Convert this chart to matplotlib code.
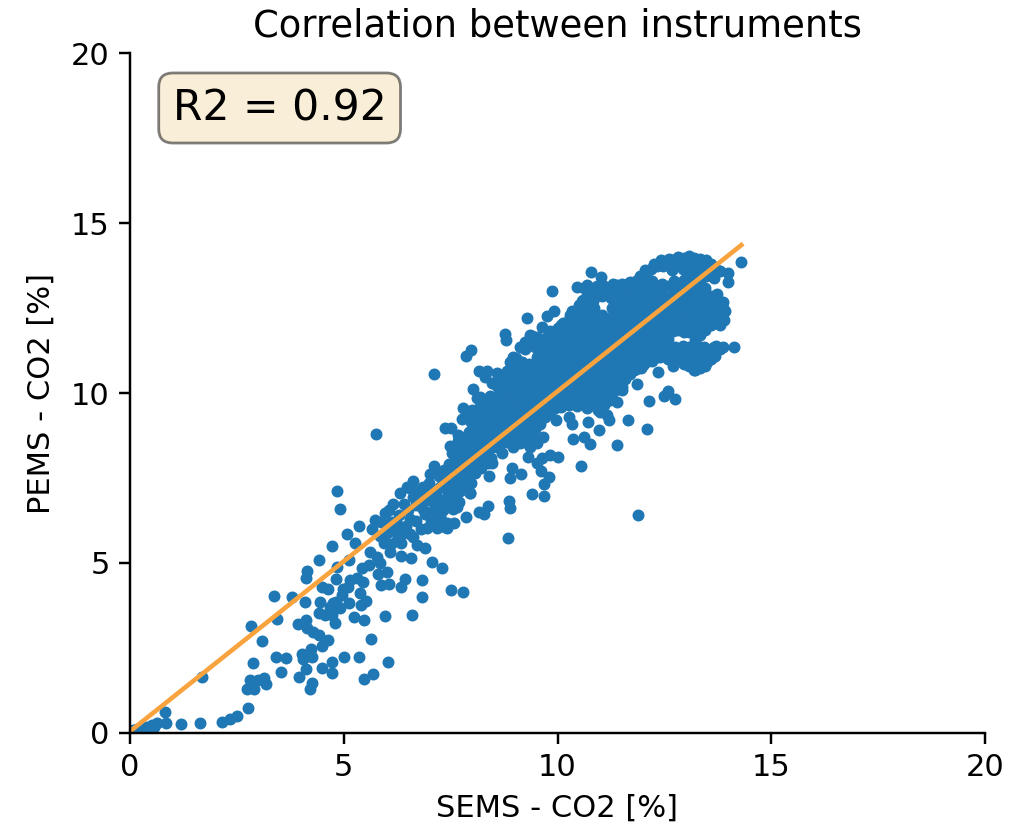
import matplotlib
matplotlib.use('Agg')
import matplotlib.pyplot as plt

# (SEMS, PEMS) CO2 readings in %
near_zero = [(0.02, 0.02), (0.08, 0.09), (0.1, 0.03), (0.16, 0.11), (0.2, 0.05), (0.27, 0.17), (0.3, 0.08),
             (0.35, 0.12), (0.39, 0.19), (0.45, 0.14), (0.51, 0.24), (0.55, 0.18), (0.62, 0.30), (0.84, 0.29),
             (0.83, 0.62), (1.20, 0.26), (1.64, 0.29), (2.15, 0.33), (2.35, 0.42), (2.51, 0.51), (2.75, 0.75)]

low_scatter = [(4.85, 7.13), (4.92, 6.58), (5.36, 6.10), (5.08, 5.84), (4.72, 5.49), (5.26, 5.58), (4.41, 5.08),
               (4.13, 4.76), (4.12, 4.57), (4.84, 4.89), (5.13, 5.09), (3.38, 4.02), (3.79, 4.01), (4.09, 3.84),
               (4.44, 3.84), (4.50, 4.28), (4.64, 4.25), (4.83, 4.52), (5.15, 4.50), (4.99, 4.25), (5.46, 4.45),
               (5.38, 4.11), (5.52, 3.89), (5.41, 3.76), (5.13, 3.83), (4.83, 3.86), (4.68, 3.72), (4.91, 3.67),
               (4.41, 3.54), (4.56, 3.47), (4.72, 3.47), (4.80, 3.25), (5.24, 3.42), (5.48, 3.32), (5.97, 3.44),
               (6.60, 3.48), (6.82, 3.99), (6.82, 4.50), (6.43, 4.53), (6.35, 4.30), (6.06, 4.38), (5.86, 4.36),
               (6.00, 4.75), (5.79, 4.68), (7.07, 5.02), (7.30, 4.84), (2.82, 3.14), (3.45, 3.34), (3.92, 3.22),
               (4.12, 3.32), (4.13, 3.08), (4.29, 2.98), (4.41, 2.88), (4.64, 2.75), (4.48, 2.57), (5.63, 2.76),
               (3.09, 2.70), (4.24, 2.46), (4.03, 2.31), (4.04, 2.18), (4.26, 2.24), (3.41, 2.25), (3.66, 2.20),
               (2.88, 2.07), (5.01, 2.25), (5.36, 2.25), (6.03, 2.10), (4.72, 2.10), (4.12, 1.89), (4.50, 1.92),
               (4.73, 1.77), (3.53, 1.78), (3.95, 1.64), (5.68, 1.73), (5.47, 1.59), (4.26, 1.48), (4.21, 1.29),
               (1.68, 1.66), (3.14, 1.61), (3.17, 1.45), (3.00, 1.56), (2.81, 1.56), (2.91, 1.29), (2.73, 1.28),
               (5.75, 8.78), (7.50, 4.20), (7.78, 4.15)]

high_scatter = [(14.29, 13.85), (10.78, 13.55), (11.02, 13.40), (9.87, 13.01), (9.28, 12.21), (9.92, 12.41),
                (9.75, 12.27), (9.63, 11.93), (9.83, 11.83), (8.77, 11.74), (8.80, 11.56), (7.98, 11.26),
                (7.86, 11.10), (7.10, 10.56), (8.17, 10.65), (8.36, 10.65), (8.31, 10.48), (8.58, 10.58),
                (8.03, 10.12), (8.11, 9.84), (7.80, 9.57), (7.76, 9.25), (7.37, 8.96), (7.50, 8.96), (7.49, 8.45),
                (7.53, 8.23), (7.10, 7.86), (14.13, 11.34), (13.88, 11.36), (13.73, 12.91), (13.98, 13.52),
                (13.98, 13.27), (12.35, 10.63), (11.86, 10.27), (12.15, 9.77), (12.58, 10.07), (12.50, 9.91),
                (12.75, 9.81), (11.52, 10.09), (11.66, 9.20), (12.09, 8.93), (11.39, 8.46), (11.88, 6.40),
                (10.55, 7.86), (11.21, 9.20), (10.97, 8.91), (10.72, 9.15), (10.35, 9.08), (10.26, 9.30),
                (9.97, 9.20), (10.37, 8.65), (10.61, 8.70), (10.76, 8.50), (10.01, 8.11), (9.83, 8.18),
                (9.63, 8.08), (9.30, 8.13), (9.52, 7.93), (9.62, 7.72), (9.81, 7.52), (9.69, 7.31), (9.14, 7.62),
                (8.93, 7.80), (8.88, 7.49), (8.40, 7.57), (9.40, 7.03), (9.69, 6.96), (8.87, 6.82), (8.88, 6.62),
                (8.38, 6.69), (8.28, 6.43), (8.17, 6.49), (7.85, 6.34), (7.58, 6.17), (7.41, 6.02), (7.18, 6.02),
                (8.85, 5.73)]

band_lower = [(6.47, 7.25), (6.32, 7.05), (6.16, 6.75), (5.96, 6.46), (5.73, 6.26), (5.65, 6.00), (6.86, 7.25),
              (6.63, 6.95), (7.02, 6.85), (7.33, 6.56), (7.41, 6.17), (6.94, 6.04), (7.17, 6.07), (7.37, 6.07),
              (6.63, 5.77), (6.39, 5.87), (6.24, 5.68), (6.00, 5.87), (6.08, 5.33), (6.35, 5.21), (6.57, 5.14),
              (6.71, 5.53), (6.90, 5.43), (5.93, 5.58), (5.61, 5.33), (5.77, 5.19), (5.85, 4.99), (5.58, 4.94),
              (5.42, 4.84), (5.30, 4.55), (5.11, 4.30), (4.95, 4.06), (4.76, 3.81), (6.10, 6.20), (6.30, 6.40),
              (6.50, 6.55), (6.70, 6.70), (6.20, 5.95), (6.45, 6.10), (6.70, 6.25), (6.90, 6.45), (7.10, 6.55),
              (7.05, 6.25), (6.80, 6.00), (6.55, 5.85), (6.35, 5.60), (6.10, 5.55), (5.85, 5.80), (7.30, 6.85),
              (7.15, 7.10), (6.95, 7.05), (6.70, 7.00), (6.55, 7.20), (6.62, 7.42), (7.00, 7.35), (7.25, 7.25),
              (7.45, 7.05), (7.60, 6.90), (7.55, 6.60), (7.22, 7.55), (7.02, 7.62), (6.82, 6.85), (6.55, 6.30),
              (6.25, 6.15), (6.85, 6.60), (7.25, 6.35), (6.42, 6.75), (6.78, 7.15), (7.12, 6.80), (7.35, 7.75),
              (7.58, 7.25), (7.55, 7.55), (7.58, 7.85), (7.60, 8.15), (6.05, 6.55), (5.88, 6.20)]

band_a = [(7.45, 7.35), (7.42, 7.65), (7.47, 7.92), (7.70, 6.80), (7.72, 7.12), (7.68, 7.40), (7.74, 7.70),
          (7.70, 8.00), (7.72, 8.30), (7.68, 8.60), (7.95, 7.05), (7.98, 7.35), (7.92, 7.65), (7.96, 7.95),
          (7.93, 8.25), (7.97, 8.55), (7.94, 8.85), (7.98, 9.15), (7.92, 9.45), (8.20, 7.80), (8.22, 8.05),
          (8.18, 8.35), (8.23, 8.65), (8.19, 8.95), (8.21, 9.25), (8.17, 9.55), (8.45, 8.10), (8.47, 8.40),
          (8.43, 8.70), (8.46, 9.00), (8.44, 9.30), (8.48, 9.60), (8.42, 9.90), (8.70, 8.25), (8.72, 8.55),
          (8.68, 8.85), (8.71, 9.15), (8.69, 9.45), (8.73, 9.75), (8.67, 10.05), (8.70, 10.30), (8.95, 8.40),
          (8.97, 8.70), (8.93, 9.00), (8.96, 9.30), (8.94, 9.60), (8.98, 9.90), (8.92, 10.20), (8.95, 10.50),
          (8.97, 10.80), (9.03, 11.02)]

band_b = [(9.20, 8.55), (9.22, 8.85), (9.18, 9.15), (9.21, 9.45), (9.19, 9.75), (9.23, 10.05), (9.17, 10.35),
          (9.20, 10.65), (9.16, 10.92), (9.24, 11.30), (9.25, 11.50), (9.45, 8.65), (9.47, 8.95), (9.43, 9.25),
          (9.46, 9.55), (9.44, 9.85), (9.48, 10.15), (9.42, 10.45), (9.46, 10.75), (9.52, 11.05), (9.48, 11.35),
          (9.40, 11.68), (9.70, 9.30), (9.72, 9.60), (9.68, 9.90), (9.71, 10.20), (9.69, 10.50), (9.73, 10.80),
          (9.67, 11.10), (9.70, 11.40), (9.72, 11.62), (9.95, 9.55), (9.97, 9.85), (9.93, 10.15), (9.96, 10.45),
          (9.94, 10.75), (9.98, 11.05), (9.92, 11.35), (9.95, 11.65), (10.00, 11.90), (10.20, 9.72), (10.22, 10.00),
          (10.18, 10.30), (10.21, 10.60), (10.19, 10.90), (10.23, 11.20), (10.17, 11.50), (10.20, 11.80),
          (10.22, 12.10), (10.45, 9.62), (10.47, 9.92), (10.43, 10.22), (10.46, 10.52), (10.44, 10.82),
          (10.48, 11.12), (10.42, 11.42), (10.45, 11.72), (10.47, 12.02), (10.43, 12.32), (10.50, 12.60)]

band_c = [(10.70, 9.55), (10.72, 9.85), (10.68, 10.15), (10.71, 10.45), (10.69, 10.75), (10.73, 11.05),
          (10.67, 11.35), (10.70, 11.65), (10.72, 11.95), (10.68, 12.25), (10.71, 12.55), (10.69, 12.85),
          (10.62, 13.08), (10.95, 9.50), (10.97, 9.80), (10.93, 10.10), (10.96, 10.40), (10.94, 10.70),
          (10.98, 11.00), (10.92, 11.30), (10.95, 11.60), (10.97, 11.90), (10.88, 12.20), (10.85, 12.50),
          (10.90, 12.85), (10.92, 13.15), (11.20, 9.80), (11.22, 10.10), (11.18, 10.40), (11.21, 10.70),
          (11.19, 11.00), (11.23, 11.30), (11.17, 11.60), (11.20, 11.90), (11.22, 12.20), (11.28, 12.50),
          (11.26, 12.80), (11.18, 13.10), (11.30, 13.20), (11.45, 10.30), (11.47, 10.60), (11.43, 10.90),
          (11.46, 11.20), (11.44, 11.50), (11.48, 11.80), (11.42, 12.10), (11.45, 12.40), (11.47, 12.70),
          (11.43, 13.00), (11.52, 13.22), (11.70, 10.55), (11.72, 10.85), (11.68, 11.15), (11.71, 11.45),
          (11.69, 11.75), (11.73, 12.05), (11.67, 12.35), (11.70, 12.65), (11.72, 12.95), (11.68, 13.25)]

band_d = [(11.95, 10.75), (11.97, 11.05), (11.93, 11.35), (11.96, 11.65), (11.94, 11.95), (11.98, 12.25),
          (11.92, 12.55), (11.95, 12.85), (11.97, 13.15), (11.93, 13.45), (12.20, 10.95), (12.22, 11.25),
          (12.18, 11.55), (12.21, 11.85), (12.19, 12.15), (12.23, 12.45), (12.17, 12.75), (12.20, 13.05),
          (12.22, 13.30), (12.18, 13.65), (12.45, 11.15), (12.47, 11.45), (12.43, 11.75), (12.46, 12.05),
          (12.44, 12.35), (12.48, 12.65), (12.42, 12.95), (12.45, 13.22), (12.47, 13.75), (12.43, 13.90),
          (12.70, 10.80), (12.72, 11.10), (12.74, 11.35), (12.71, 11.82), (12.69, 12.12), (12.73, 12.42),
          (12.67, 12.72), (12.70, 13.02), (12.72, 13.28), (12.68, 13.62), (12.71, 13.92), (12.95, 10.85),
          (12.97, 11.15), (12.93, 11.38), (12.96, 11.80), (12.94, 12.10), (12.98, 12.40), (12.92, 12.70),
          (12.95, 13.00), (12.97, 13.32), (12.93, 13.65), (12.96, 13.98)]

band_e = [(13.20, 10.68), (13.22, 10.95), (13.18, 11.25), (13.21, 11.55), (13.19, 11.85), (13.23, 12.15),
          (13.17, 12.45), (13.20, 12.75), (13.22, 13.05), (13.18, 13.35), (13.21, 13.65), (13.19, 13.98),
          (13.45, 10.78), (13.47, 11.08), (13.43, 11.36), (13.46, 11.85), (13.44, 12.15), (13.48, 12.45),
          (13.42, 12.75), (13.45, 13.10), (13.47, 13.45), (13.43, 13.75), (13.47, 13.92), (13.68, 11.10),
          (13.70, 11.38), (13.72, 12.18), (13.68, 12.48), (13.70, 12.72), (13.65, 13.38), (13.68, 13.68),
          (13.90, 12.15), (13.92, 12.40), (13.88, 12.68)]

fill_a = [(7.83, 7.20), (7.83, 7.50), (7.83, 7.80), (7.83, 8.10), (7.83, 8.40), (7.83, 8.70), (8.08, 7.65),
          (8.08, 7.95), (8.08, 8.25), (8.08, 8.55), (8.08, 8.85), (8.08, 9.15), (8.08, 9.40), (8.33, 8.25),
          (8.33, 8.55), (8.33, 8.85), (8.33, 9.15), (8.33, 9.45), (8.33, 9.70), (8.58, 8.40), (8.58, 8.70),
          (8.58, 9.00), (8.58, 9.30), (8.58, 9.60), (8.58, 9.90), (8.58, 10.20), (8.83, 8.55), (8.83, 8.85),
          (8.83, 9.15), (8.83, 9.45), (8.83, 9.75), (8.83, 10.05), (8.83, 10.35), (8.83, 10.65), (9.08, 8.70),
          (9.08, 9.00), (9.08, 9.30), (9.08, 9.60), (9.08, 9.90), (9.08, 10.20), (9.08, 10.50), (9.08, 10.80),
          (9.33, 8.75), (9.33, 9.05), (9.33, 9.35), (9.33, 9.65), (9.33, 9.95), (9.33, 10.25), (9.33, 10.55),
          (9.33, 10.85), (9.33, 11.45), (9.58, 9.10), (9.58, 9.40), (9.58, 9.70), (9.58, 10.00), (9.58, 10.30),
          (9.58, 10.60), (9.58, 10.90), (9.58, 11.20), (9.58, 11.50), (9.83, 9.45), (9.83, 9.75), (9.83, 10.05),
          (9.83, 10.35), (9.83, 10.65), (9.83, 10.95), (9.83, 11.25), (9.83, 11.50)]

fill_b = [(10.08, 9.60), (10.08, 9.90), (10.08, 10.20), (10.08, 10.50), (10.08, 10.80), (10.08, 11.10),
          (10.08, 11.40), (10.08, 11.70), (10.08, 12.00), (10.33, 9.75), (10.33, 10.05), (10.33, 10.35),
          (10.33, 10.65), (10.33, 10.95), (10.33, 11.25), (10.33, 11.55), (10.33, 11.85), (10.33, 12.15),
          (10.33, 12.40), (10.58, 9.70), (10.58, 10.00), (10.58, 10.30), (10.58, 10.60), (10.58, 10.90),
          (10.58, 11.20), (10.58, 11.50), (10.58, 11.80), (10.58, 12.10), (10.58, 12.40), (10.58, 12.70),
          (10.83, 9.65), (10.83, 9.95), (10.83, 10.25), (10.83, 10.55), (10.83, 10.85), (10.83, 11.15),
          (10.83, 11.45), (10.83, 11.75), (10.83, 12.05), (10.80, 12.35), (10.83, 12.70), (10.83, 13.00),
          (11.08, 9.65), (11.08, 9.95), (11.08, 10.25), (11.08, 10.55), (11.08, 10.85), (11.08, 11.15),
          (11.08, 11.45), (11.08, 11.75), (11.08, 12.05), (11.05, 12.28), (11.05, 12.85), (11.08, 13.15),
          (11.33, 10.05), (11.33, 10.35), (11.33, 10.65), (11.33, 10.95), (11.33, 11.25), (11.33, 11.55),
          (11.33, 11.85), (11.33, 12.15), (11.33, 12.45), (11.33, 12.75), (11.33, 13.00), (11.58, 10.40),
          (11.58, 10.70), (11.58, 11.00), (11.58, 11.30), (11.58, 11.60), (11.58, 11.90), (11.58, 12.20),
          (11.58, 12.50), (11.58, 12.80), (11.58, 13.15), (11.83, 10.70), (11.83, 11.00), (11.83, 11.30),
          (11.83, 11.60), (11.83, 11.90), (11.83, 12.20), (11.83, 12.50), (11.83, 12.80), (11.83, 13.10),
          (11.83, 13.30)]

fill_c = [(12.08, 10.90), (12.08, 11.20), (12.08, 11.50), (12.08, 11.80), (12.08, 12.10), (12.08, 12.40),
          (12.08, 12.70), (12.08, 13.00), (12.08, 13.30), (12.08, 13.50), (12.33, 11.05), (12.33, 11.35),
          (12.33, 11.65), (12.33, 11.95), (12.33, 12.25), (12.33, 12.55), (12.33, 12.85), (12.33, 13.10),
          (12.33, 13.75), (12.58, 11.00), (12.58, 11.30), (12.58, 11.60), (12.58, 11.90), (12.58, 12.20),
          (12.58, 12.50), (12.58, 12.80), (12.58, 13.15), (12.58, 13.85), (12.83, 10.95), (12.83, 11.25),
          (12.83, 11.85), (12.83, 12.15), (12.83, 12.45), (12.83, 12.75), (12.83, 13.05), (12.83, 13.20),
          (12.83, 13.80), (12.83, 14.00), (13.08, 10.80), (13.08, 11.10), (13.08, 11.35), (13.08, 11.80),
          (13.08, 12.10), (13.08, 12.40), (13.08, 12.70), (13.08, 13.00), (13.08, 13.20), (13.08, 13.50),
          (13.08, 13.80), (13.08, 14.02), (13.33, 10.75), (13.33, 11.05), (13.33, 11.35), (13.33, 11.70),
          (13.33, 12.00), (13.33, 12.30), (13.33, 12.60), (13.33, 12.90), (13.33, 13.20), (13.33, 13.60),
          (13.33, 13.95), (13.58, 11.00), (13.58, 11.30), (13.58, 12.00), (13.58, 12.30), (13.58, 12.60),
          (13.58, 12.85), (13.58, 13.50), (13.58, 13.80), (13.80, 11.30), (13.80, 12.00), (13.80, 12.30),
          (13.80, 12.60), (13.80, 13.60), (12.60, 13.95), (12.25, 13.78), (12.05, 13.62)]

band_edges = [(10.45, 13.13), (10.69, 13.18), (11.39, 13.18), (11.70, 13.27), (10.29, 12.29), (10.14, 12.05),
              (10.60, 12.74), (9.13, 11.36), (8.89, 10.92), (8.97, 11.07), (9.36, 11.70), (9.52, 11.66),
              (8.46, 10.28), (8.66, 10.53), (8.89, 10.63), (7.99, 9.50), (8.42, 9.70), (8.19, 9.89), (7.68, 8.76),
              (7.72, 8.37), (8.38, 7.93), (8.19, 7.93), (8.46, 7.93), (7.99, 7.64), (8.97, 8.62), (9.13, 8.52),
              (9.36, 8.42), (9.67, 8.72), (9.52, 8.52), (9.75, 9.40), (10.26, 9.65), (11.00, 9.45), (11.15, 9.35),
              (11.39, 9.75), (11.23, 9.79), (11.50, 10.19), (11.78, 10.68), (12.01, 10.82), (12.40, 11.07),
              (12.71, 10.87), (13.22, 10.68), (13.49, 10.92), (13.65, 11.36), (13.84, 12.20), (13.88, 12.49),
              (13.53, 12.74), (7.25, 6.36), (7.64, 6.66), (7.49, 6.75), (7.96, 7.05), (7.80, 7.29), (7.14, 6.66)]

regions = [near_zero, low_scatter, high_scatter, band_lower, band_a, band_b, band_c, band_d, band_e,
           fill_a, fill_b, fill_c, band_edges]
sems = [p[0] for region in regions for p in region]
pems = [p[1] for region in regions for p in region]

# regression line end points
fit_x = [0.0, 14.3]
fit_y = [0.05, 14.35]

plt.rcParams['font.size'] = 11
plt.rcParams['axes.linewidth'] = 0.88
plt.rcParams['xtick.major.size'] = 3.85
plt.rcParams['ytick.major.size'] = 3.85
plt.rcParams['xtick.major.width'] = 0.88
plt.rcParams['ytick.major.width'] = 0.88

fig = plt.figure(figsize=(5.06, 4.15), dpi=200)
ax = fig.add_subplot(111)
fig.subplots_adjust(left=130 / 1012, right=985 / 1012, top=1 - 53 / 830, bottom=1 - 733 / 830)

ax.plot(sems, pems, '.', color='C0', markersize=6.4, markeredgewidth=1.1)
ax.plot(fit_x, fit_y, color='#f9a33f', linewidth=1.65)

ax.set_xlim(0, 20)
ax.set_ylim(0, 20)
ax.set_xticks([0, 5, 10, 15, 20])
ax.set_yticks([0, 5, 10, 15, 20])
ax.spines['top'].set_visible(False)
ax.spines['right'].set_visible(False)

ax.set_title('Correlation between instruments', fontsize=13.3)
ax.set_xlabel('SEMS - CO2 [%]')
ax.set_ylabel('PEMS - CO2 [%]', labelpad=5.5)

ax.text(0.05, 0.95, 'R2 = 0.92', transform=ax.transAxes, fontsize=15.3, va='top',
        bbox=dict(boxstyle='round,pad=0.33', facecolor='wheat', alpha=0.5))

fig.savefig('out.png', dpi=200)
